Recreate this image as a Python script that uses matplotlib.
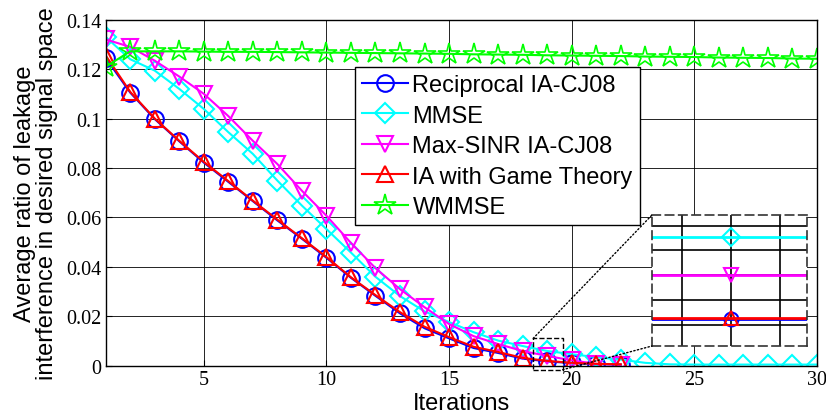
import numpy as np
import matplotlib.pyplot as plt
from matplotlib.patches import Rectangle, ConnectionPatch

plt.rcParams['font.family'] = ['Liberation Sans', 'DejaVu Sans']

# iterations
iters_long = list(range(1, 31))
iters_short = list(range(1, 23))

# Reciprocal IA-CJ08
recip = [0.1245, 0.1105, 0.0998, 0.0908, 0.0822, 0.0744, 0.0666, 0.0588, 0.0514, 0.0437, 0.0356,
         0.0283, 0.0212, 0.0152, 0.0111, 0.0072, 0.0052, 0.0029, 0.0018, 0.0011, 0.0007, 0.0005]
# MMSE
mmse = [0.1330, 0.1240, 0.1194, 0.1120, 0.1039, 0.0945, 0.0857, 0.0749, 0.0648, 0.0553, 0.0458,
        0.0360, 0.0282, 0.0220, 0.0177, 0.0136, 0.0102, 0.0080, 0.0060, 0.0047, 0.0035, 0.0025,
        0.0012, 0.0006, 0.0005, 0.0005, 0.0005, 0.0005, 0.0005, 0.0005]
# Max-SINR IA-CJ08
maxsinr = [0.1320, 0.1290, 0.1234, 0.1170, 0.1100, 0.1010, 0.0910, 0.0816, 0.0708, 0.0607, 0.0497,
           0.0395, 0.0310, 0.0237, 0.0169, 0.0120, 0.0088, 0.0060, 0.0040, 0.0022, 0.0008, 0.0004]
# IA with Game Theory
iagt = [0.1255, 0.1108, 0.1000, 0.0910, 0.0825, 0.0747, 0.0668, 0.0591, 0.0516, 0.0440, 0.0358,
        0.0286, 0.0217, 0.0158, 0.0116, 0.0077, 0.0056, 0.0032, 0.0020, 0.0012, 0.0008, 0.0006]
# WMMSE
wmmse = [0.1210, 0.1272, 0.1272, 0.1272, 0.1271, 0.1270, 0.1270, 0.1269, 0.1268, 0.1267, 0.1266,
         0.1265, 0.1264, 0.1263, 0.1262, 0.1260, 0.1259, 0.1258, 0.1256, 0.1255, 0.1254, 0.1253,
         0.1251, 0.1250, 0.1249, 0.1247, 0.1246, 0.1245, 0.1243, 0.1242]

labels = ['Reciprocal IA-CJ08', 'MMSE', 'Max-SINR IA-CJ08', 'IA with Game Theory', 'WMMSE']

xticks = [5, 10, 15, 20, 25, 30]
yticks = [0, 0.02, 0.04, 0.06, 0.08, 0.1, 0.12, 0.14]
ytick_labels = ['0', '0.02', '0.04', '0.06', '0.08', '0.1', '0.12', '0.14']

# zoomed-in view around iteration 19
zoom_x = [18, 19, 20]
zoom_recip = [0.00222, 0.00222, 0.00222]
zoom_mmse = [0.00554, 0.00554, 0.00554]
zoom_maxsinr = [0.0040, 0.0040, 0.0040]
zoom_iagt = [0.00226, 0.00226, 0.00226]
zoom_yticks = [0.002, 0.003, 0.004, 0.005, 0.006]
zoom_xticks = [18.6, 19.0, 19.4]

fig = plt.figure(figsize=(8.26, 4.14), dpi=100)
ax = fig.add_axes([0.128, 0.114, 0.861, 0.836])

lw = 1.5
ms = 12
ax.plot(iters_short, recip, 'b-', marker='o', ms=ms, mfc='none', mew=1.5, lw=lw, label=labels[0])
ax.plot(iters_long, mmse, '-', color='cyan', marker='D', ms=10, mfc='none', mew=1.5, lw=lw, label=labels[1])
ax.plot(iters_short, maxsinr, '-', color='magenta', marker='v', ms=ms, mfc='none', mew=1.5, lw=lw, label=labels[2])
ax.plot(iters_short, iagt, 'r-', marker='^', ms=ms, mfc='none', mew=1.5, lw=lw, label=labels[3])
ax.plot(iters_long, wmmse, '-', color='lime', marker='*', ms=16, mfc='none', mew=1.2, lw=lw, label=labels[4])

ax.set_xlim(1, 30)
ax.set_ylim(0, 0.14)
ax.set_xticks(xticks)
ax.set_xticklabels([str(t) for t in xticks])
ax.set_yticks(yticks)
ax.set_yticklabels(ytick_labels)
ax.tick_params(direction='in', length=4, pad=3)
plt.setp(ax.get_xticklabels() + ax.get_yticklabels(), fontfamily='Liberation Serif', fontsize=14.5)
ax.grid(True, color='k', lw=0.6, ls='-')
for s in ax.spines.values():
    s.set_linewidth(1.0)

ax.set_xlabel('Iterations', fontsize=17, labelpad=2)
ax.set_ylabel('Average ratio of leakage\ninterference in desired signal space', fontsize=17,
              linespacing=1.0, labelpad=6)

leg = ax.legend(loc='upper left', bbox_to_anchor=(0.350, 0.863), borderaxespad=0, fontsize=17,
                fancybox=False, edgecolor='k', framealpha=1, handlelength=1.95,
                handletextpad=0.2, labelspacing=0.36, borderpad=0.3)
leg.get_frame().set_linewidth(1.0)

# small dashed box marking the zoomed region
rect = Rectangle((18.43, -0.0016), 1.2, 0.0127, fill=False, ls='--', lw=1.0, ec='k',
                 clip_on=False, zorder=5)
ax.add_patch(rect)

axins = fig.add_axes([0.7893, 0.1618, 0.1877, 0.3164])
axins.plot(zoom_x, zoom_recip, 'b-', marker='o', ms=10, mfc='none', mew=1.5, lw=2)
axins.plot(zoom_x, zoom_mmse, '-', color='cyan', marker='D', ms=9, mfc='none', mew=1.5, lw=2)
axins.plot(zoom_x, zoom_maxsinr, '-', color='magenta', marker='v', ms=10, mfc='none', mew=1.5, lw=2)
axins.plot(zoom_x, zoom_iagt, 'r-', marker='^', ms=10, mfc='none', mew=1.5, lw=2)
axins.set_xlim(18.35, 19.62)
axins.set_ylim(0.00113, 0.00643)
axins.set_xticks(zoom_xticks)
axins.set_yticks(zoom_yticks)
axins.set_xticklabels([])
axins.set_yticklabels([])
axins.tick_params(length=0)
axins.grid(True, color='k', lw=1.2, ls='-')
for s in axins.spines.values():
    s.set_linestyle((0, (5, 3)))
    s.set_linewidth(1.2)
    s.set_color('0.2')

con1 = ConnectionPatch(xyA=(18.43, 0.0111), coordsA=ax.transData, xyB=(0, 1), coordsB=axins.transAxes,
                       ls=':', lw=1.0, color='k')
con2 = ConnectionPatch(xyA=(19.63, -0.0016), coordsA=ax.transData, xyB=(0, 0), coordsB=axins.transAxes,
                       ls=':', lw=1.0, color='k')
fig.add_artist(con1)
fig.add_artist(con2)

fig.savefig('out.png', dpi=100)
